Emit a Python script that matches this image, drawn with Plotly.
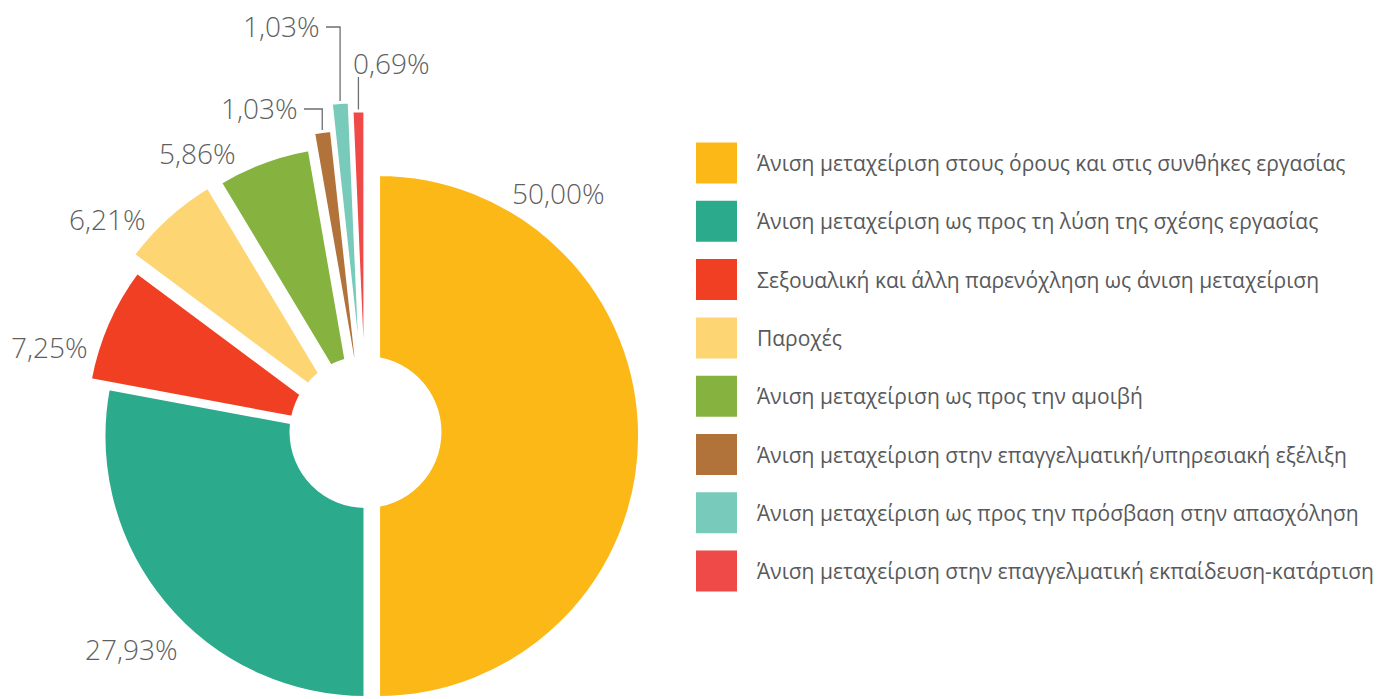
import math
import plotly.graph_objects as go

# ---------------- data ----------------
categories = [
    "Άνιση μεταχείριση στους όρους και στις συνθήκες εργασίας",
    "Άνιση μεταχείριση ως προς τη λύση της σχέσης εργασίας",
    "Σεξουαλική και άλλη παρενόχληση ως άνιση μεταχείριση",
    "Παροχές",
    "Άνιση μεταχείριση ως προς την αμοιβή",
    "Άνιση μεταχείριση στην επαγγελματική/υπηρεσιακή εξέλιξη",
    "Άνιση μεταχείριση ως προς την πρόσβαση στην απασχόληση",
    "Άνιση μεταχείριση στην επαγγελματική εκπαίδευση-κατάρτιση",
]
values = [50.00, 27.93, 7.25, 6.21, 5.86, 1.03, 1.03, 0.69]
value_labels = [f"{v:.2f}".replace(".", ",") + "%" for v in values]

# ---------------- style ----------------
colors = ["#FBB817", "#2CAA8C", "#F03F23", "#FDD673",
          "#86B340", "#B2733B", "#78CBBB", "#EF4A48"]
pulls = [0.048, 0.0, 0.076, 0.128, 0.118, 0.172, 0.275, 0.239]
line_widths = [4, 4, 4, 4, 4, 2, 2, 1.5]

W, H = 1396, 772          # figure taller than the window; bottom is cut off
CX, CY = 365.5, 436.0     # pie centre (px)
R = 262.0                 # pie radius (px)
HOLE_R = 76.0
HOLE_DY = -4.0
TEXT_GRAY = "#5f5f5f"
LEG_GRAY = "#58595b"
FONT = "Open Sans"


def px(x):
    return x / W


def py(y):
    return 1 - y / H


ext = R * (1 + max(pulls))
dom_x = [px(CX - CX), px(CX + CX)]
dom_y = [py(CY + ext), py(CY - ext)]

fig = go.Figure()
fig.add_trace(go.Pie(
    values=values, labels=categories, sort=False, direction="clockwise",
    rotation=0, pull=pulls, textinfo="none", hoverinfo="label+percent",
    marker=dict(colors=colors, line=dict(color="white", width=line_widths)),
    domain=dict(x=dom_x, y=dom_y), showlegend=False,
))

# slice geometry (for leader lines)
total = sum(values)
mids = []
acc = 0.0
for v in values:
    mids.append((acc + v / 2) / total * 2 * math.pi)
    acc += v


def outer_point(i, extra=0.0):
    d = R * (1 + pulls[i]) + extra
    return CX + d * math.sin(mids[i]), CY - d * math.cos(mids[i])


# percentage labels: (x_px, y_px, xanchor)
label_pos = [
    (558, 193, "center"),
    (131, 649, "center"),
    (49, 347, "center"),
    (107, 219, "center"),
    (197, 153, "center"),
    (300, 108, "right"),
    (322, 26, "right"),
    (351, 63, "left"),
]
for i, (lx, ly, xa) in enumerate(label_pos):
    fig.add_annotation(x=px(lx), y=py(ly), xref="paper", yref="paper",
                       text=value_labels[i], showarrow=False, xanchor=xa,
                       yanchor="middle",
                       font=dict(family=FONT, size=28, color=TEXT_GRAY, weight=300))

# leader lines for the three thin slices
LINE = dict(color="#6d6e71", width=1.3)
for i in (5, 6):
    ex, ey = outer_point(i, 2)
    lx, ly, _ = label_pos[i]
    path = f"M {px(lx + 4)} {py(ly + 1)} L {px(ex)} {py(ly + 1)} L {px(ex)} {py(ey)}"
    fig.add_shape(type="path", path=path, xref="paper", yref="paper", line=LINE)
ex, ey = outer_point(7, 2)
fig.add_shape(type="line", x0=px(ex), x1=px(ex), y0=py(label_pos[7][1] + 14),
              y1=py(ey), xref="paper", yref="paper", line=LINE)

# doughnut hole
fig.add_shape(type="circle", xref="paper", yref="paper",
              x0=px(CX - HOLE_R), x1=px(CX + HOLE_R),
              y0=py(CY + HOLE_DY + HOLE_R), y1=py(CY + HOLE_DY - HOLE_R),
              fillcolor="white", line=dict(width=0), layer="above")

# legend drawn with square markers on an invisible axis (1 unit = 1 px)
LEG_SQ_X = 716.5
LEG_TEXT_X = 755
LEG_TOP = 163.0
LEG_STEP = 58.3
fig.add_trace(go.Scatter(
    x=[LEG_SQ_X] * len(categories), y=categories, mode="markers",
    marker=dict(symbol="square", size=41, color=colors, line=dict(width=0)),
    hoverinfo="skip", showlegend=False,
))
for i, c in enumerate(categories):
    fig.add_annotation(x=LEG_TEXT_X, y=i, xref="x", yref="y", text=c,
                       showarrow=False, xanchor="left", yanchor="middle",
                       font=dict(family=FONT, size=21, color=LEG_GRAY))

fig.update_xaxes(range=[0, W], visible=False, fixedrange=True, domain=[0, 1])
fig.update_yaxes(type="category", categoryorder="array", categoryarray=categories,
                 range=[(H - LEG_TOP) / LEG_STEP, -LEG_TOP / LEG_STEP],
                 visible=False, fixedrange=True, domain=[0, 1])

fig.update_layout(width=W, height=H, margin=dict(l=0, r=0, t=0, b=0),
                  paper_bgcolor="white", plot_bgcolor="white",
                  font=dict(family=FONT))

fig.write_html("out.html", config={"displayModeBar": False},
               post_script="document.body.style.margin='0';"
                           "document.body.style.overflow='hidden';"
                           "document.documentElement.style.overflow='hidden';")
